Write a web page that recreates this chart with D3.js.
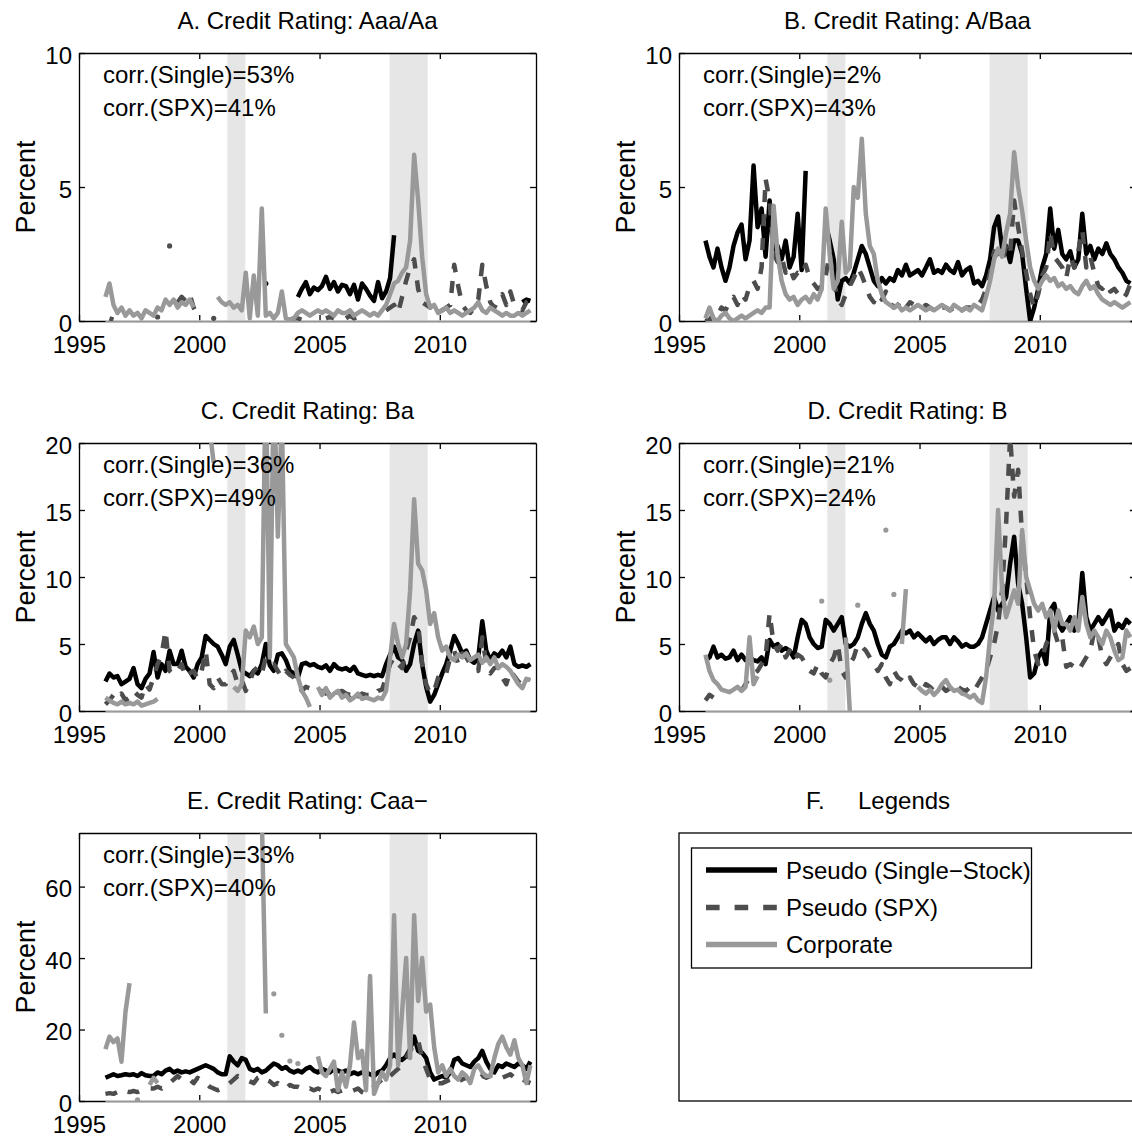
<!DOCTYPE html>
<html><head><meta charset="utf-8">
<script src="https://cdn.jsdelivr.net/npm/d3@7"></script>
<style>
body{margin:0;background:#fff;}
svg text{font-family:"Liberation Sans",Arial,Helvetica,sans-serif;fill:#000;}
</style></head><body>
<svg id="chart" width="1132" height="1141"></svg>
<script>
const n = null;
// time grid: bimonthly observations from 1996.1
const startYear = 1996.1, stepYear = 1/6, nObs = 107;
const xDomain = [1995, 2014];
const xTicks = [1995, 2000, 2005, 2010];
const recessions = [[2001.167, 2001.917], [2007.917, 2009.5]];
const seriesNames = ["Pseudo (Single\u2212Stock)", "Pseudo (SPX)", "Corporate"];
const panelTitles = ["A. Credit Rating: Aaa/Aa", "B. Credit Rating: A/Baa", "C. Credit Rating: Ba", "D. Credit Rating: B", "E. Credit Rating: Caa\u2212"];
const corrSingle = ["53%", "2%", "36%", "21%", "33%"];
const corrSPX = ["41%", "43%", "49%", "24%", "40%"];
const yMaxes = [10, 10, 20, 20, 75];
const yTicksList = [[0,5,10],[0,5,10],[0,5,10,15,20],[0,5,10,15,20],[0,20,40,60]];

const aSingle = [
 n,n,n,n,n,n, n,n,n,n,n,n, n,n,n,n,n,n, n,n,n,n,n,n, n,n,n,n,n,n, n,n,n,n,n,n,
 n,n,n,n,1.4,n, n,n,n,n,n,n,
 0.9,1.2,1.45,1.0,1.25,1.15,
 1.3,1.65,1.2,1.45,1.1,1.35,
 1.3,1.0,1.35,0.8,1.4,1.2,
 0.95,0.75,1.45,0.85,1.1,1.6,
 3.2,n,n,n,n,n,
 n,n,n,n,n,n, n,n,n,n,n,n, n,n,n,n,n,n, n,n,n,n,n,n,
 n,n,0.7,0.8,0.75];
const aSPX = [
 n,0.1,0.05,n,n,n,
 n,n,n,n,n,n,
 n,0.15,n,n,2.8,n,
 0.7,0.9,0.75,1.0,0.5,0.2,
 n,n,n,0.1,n,n,
 n,n,n,n,n,n,
 n,n,n,n,n,n,
 n,n,n,n,0.05,0.1,
 0.1,0.05,n,n,n,n,
 n,0.1,0.15,0.1,n,n,
 0.1,0.2,0.1,0.15,n,n,
 n,n,n,n,0.4,0.5,
 0.6,0.3,0.9,1.5,2.0,2.3,
 1.2,0.7,0.6,0.5,0.7,0.6,
 0.4,0.5,0.6,2.1,1.3,0.6,
 0.4,0.3,0.5,0.8,2.1,1.3,
 0.7,0.5,0.8,1.0,0.6,1.1,
 0.6,0.5,0.4,0.7,0.8];
const aCorp = [
 0.9,1.4,0.6,0.3,0.5,0.2,
 0.4,0.2,0.3,0.1,0.4,0.3,
 0.2,0.5,0.4,0.8,0.6,0.8,
 0.5,0.7,0.6,0.8,0.5,n,
 n,n,n,n,0.9,0.7,
 0.6,0.7,0.5,0.6,0.4,1.8,
 0.1,1.7,0.2,4.2,0.2,0.3,
 0.1,0.3,1.1,0.1,0.05,0.1,
 0.3,0.4,0.3,0.2,0.3,0.4,
 0.3,0.4,0.3,0.2,0.4,0.3,
 0.3,0.4,0.2,0.3,0.4,0.3,
 0.2,0.3,0.2,0.4,0.6,1.0,
 1.4,1.5,1.8,2.0,3.0,6.2,
 4.5,2.4,1.0,0.5,0.6,0.3,
 0.4,0.5,0.3,0.4,0.3,0.2,
 0.3,0.4,0.5,0.7,0.4,0.3,
 0.5,0.4,0.3,0.2,0.3,0.2,
 0.2,0.3,0.2,0.3,0.4];

const bSingle = [
 3.0,2.4,2.0,2.7,2.0,1.5,
 2.0,2.8,3.3,3.6,2.3,3.0,
 5.8,3.5,4.2,2.4,4.5,2.5,
 2.8,2.3,3.0,2.0,2.4,4.0,
 1.9,5.6,n,n,n,n,
 3.6,3.0,2.3,0.8,1.5,1.6,
 1.4,1.8,2.3,2.8,2.5,2.0,
 1.5,1.3,1.6,1.4,1.6,1.5,
 1.9,1.7,2.1,1.7,1.8,1.9,
 1.7,2.0,2.3,1.8,1.9,1.8,
 2.1,1.9,1.8,2.2,1.7,1.9,
 2.0,1.4,1.5,1.3,1.7,2.3,
 3.5,3.9,2.7,2.8,2.2,3.0,
 3.0,2.5,1.2,0.0,0.5,1.2,
 2.0,2.5,4.2,2.7,3.4,2.5,
 2.3,2.6,2.0,2.3,4.0,2.5,
 2.8,2.3,2.7,2.5,2.9,2.5,
 2.3,2.0,1.8,1.5,1.4];
const bSPX = [
 0.1,0.0,0.3,0.2,0.5,0.4,
 0.7,0.9,0.6,1.0,0.8,1.3,
 1.5,1.2,2.0,5.3,4.5,2.5,
 2.2,2.4,1.8,2.0,1.6,1.8,
 1.7,2.1,1.6,1.4,1.2,1.3,
 1.7,2.5,1.5,0.8,0.6,1.0,
 1.3,1.6,2.0,1.7,1.3,0.9,
 0.7,1.0,0.8,1.1,0.7,0.5,
 0.6,0.8,0.5,0.7,0.6,0.5,
 0.5,0.6,0.5,0.4,0.6,0.5,
 0.5,0.4,0.5,0.6,0.4,0.5,
 0.5,0.4,0.6,0.8,1.2,1.8,
 2.6,2.4,2.2,2.8,2.5,4.5,
 3.5,2.6,1.8,1.0,0.5,1.0,
 1.7,2.0,3.3,2.4,2.2,2.0,
 1.6,2.4,2.0,2.6,3.4,2.0,
 2.4,1.8,1.3,1.2,1.4,1.1,
 1.2,1.0,0.8,1.0,1.4];
const bCorp = [
 0.1,0.5,0.1,0.0,0.2,0.3,
 0.1,0.0,0.1,0.2,0.1,0.2,
 0.3,0.4,0.3,0.5,0.5,4.3,
 2.5,1.5,1.0,0.8,0.9,0.6,
 0.8,0.9,0.7,1.0,0.8,1.2,
 4.2,2.5,1.2,1.5,3.7,1.8,
 2.0,5.0,4.6,6.8,4.0,2.8,
 2.5,1.5,1.0,0.7,0.6,0.5,
 0.6,0.4,0.5,0.4,0.5,0.6,
 0.5,0.4,0.5,0.4,0.5,0.6,
 0.5,0.4,0.6,0.5,0.4,0.5,
 0.4,0.6,0.5,0.4,0.9,1.5,
 2.3,2.7,2.4,3.3,4.0,6.3,
 5.0,4.1,3.0,2.0,1.5,1.2,
 1.5,1.7,1.5,1.6,1.3,1.4,
 1.2,1.3,1.1,1.0,1.3,1.5,
 1.2,1.3,1.0,0.8,0.7,0.6,
 0.7,0.6,0.5,0.6,0.7];

const cSingle = [
 2.2,2.8,2.5,2.6,2.0,2.2,
 2.4,3.2,2.0,1.7,2.4,2.8,
 4.4,2.5,3.5,3.0,4.5,3.5,
 3.5,4.5,3.3,3.0,2.5,3.5,
 4.0,5.6,5.3,5.0,4.8,4.2,
 3.5,4.8,5.3,4.2,3.0,2.8,
 2.6,3.0,2.8,3.5,5.0,3.4,
 3.0,4.2,4.3,3.8,3.0,2.8,
 2.5,3.5,3.6,3.4,3.5,3.3,
 3.2,3.4,3.0,3.5,3.2,3.1,
 3.2,3.0,3.3,2.8,2.7,2.6,
 2.7,2.6,2.7,2.6,3.5,4.2,
 4.8,4.0,3.8,3.0,3.5,5.0,
 6.0,3.5,1.8,0.7,1.2,2.0,
 2.8,3.5,4.5,5.6,5.0,4.3,
 4.5,3.8,3.6,4.0,6.7,4.5,
 3.8,4.3,4.1,4.5,4.0,4.8,
 3.5,3.3,3.4,3.3,3.5];
const cSPX = [
 0.5,0.8,1.2,0.9,1.3,0.8,
 1.0,1.5,1.2,1.0,2.0,1.6,
 2.5,3.5,4.2,6.0,3.0,2.7,
 3.0,3.5,2.5,2.8,3.0,2.4,
 3.0,4.5,2.0,1.7,2.5,2.0,
 2.0,2.6,3.0,2.0,2.3,1.5,
 2.2,3.0,3.3,2.8,4.0,3.5,
 3.5,3.0,2.5,3.0,2.7,2.5,
 2.0,1.5,1.8,1.7,1.4,1.5,
 1.5,1.3,1.5,1.2,1.4,1.5,
 1.3,1.2,1.5,1.1,1.3,1.2,
 1.2,1.1,1.5,1.6,2.5,3.5,
 4.0,3.5,3.2,4.5,5.5,7.0,
 6.5,3.5,2.0,1.3,1.5,2.5,
 3.0,2.8,4.0,4.5,3.5,4.3,
 4.0,3.5,3.2,3.0,5.5,3.5,
 2.8,3.2,3.3,2.5,2.0,3.0,
 2.6,2.2,2.5,2.3,2.4];
const cCorp = [
 1.0,0.8,0.6,0.5,0.7,0.5,
 0.6,0.5,0.7,0.4,0.5,0.6,
 0.7,0.9,n,n,n,n,
 n,n,n,n,n,n,
 n,n,21,18.5,n,n,
 n,n,1.8,1.5,2.0,6.0,
 5.5,6.3,5.0,5.5,25,4.0,
 25,13,22,5.0,4.5,4.0,
 2.5,1.5,1.0,0.3,n,1.8,
 1.2,1.7,1.0,1.3,1.5,1.0,
 1.2,0.8,1.0,1.3,0.9,1.0,
 0.9,0.8,1.0,0.9,1.5,4.0,
 6.5,5.0,4.0,5.0,9.0,15.8,
 11.0,10.5,9.0,6.5,7.3,5.5,
 4.5,4.8,4.0,3.8,4.2,4.0,
 4.3,3.8,4.0,4.2,3.6,4.0,
 3.5,4.0,3.2,3.5,3.3,3.0,
 2.5,2.0,1.7,2.4,2.3];

const dSingle = [
 3.8,4.0,4.8,4.0,4.2,3.9,
 4.0,4.5,3.8,4.2,3.8,4.0,
 3.8,3.7,4.0,3.5,5.3,4.8,
 5.0,4.5,4.7,4.5,4.0,5.5,
 6.8,6.5,5.5,5.0,4.7,4.8,
 6.8,6.5,6.0,6.5,7.0,5.0,
 4.8,5.0,5.5,6.5,7.3,6.5,
 6.0,5.0,4.2,4.0,4.8,5.0,
 5.5,6.0,5.8,6.0,5.5,5.8,
 5.5,5.2,5.5,5.0,5.3,5.5,
 5.5,5.0,5.5,5.2,4.8,5.0,
 4.8,4.8,5.0,5.5,6.5,7.5,
 8.5,7.5,8.0,8.5,11.0,13.0,
 9.5,8.0,5.5,2.5,2.8,4.0,
 4.5,3.5,7.5,8.0,6.5,6.0,
 6.5,7.0,6.0,6.5,10.3,7.0,
 6.0,6.5,7.0,6.5,7.0,7.5,
 6.0,6.5,6.2,6.8,6.5];
const dSPX = [
 0.8,1.2,1.0,n,n,n,
 n,n,n,1.5,2.0,2.5,
 2.8,3.0,3.5,4.0,7.3,5.0,
 4.5,5.0,4.0,4.5,3.8,4.2,
 4.0,3.5,3.0,2.8,3.5,2.8,
 2.5,3.5,4.0,5.0,3.0,2.5,
 3.5,4.0,5.0,4.8,4.5,4.0,
 3.5,3.0,3.5,2.5,2.0,3.0,
 2.5,2.3,2.0,2.5,2.0,1.8,
 1.5,2.0,1.8,1.5,2.0,1.8,
 1.5,1.7,1.5,1.8,1.6,1.5,
 1.8,1.5,2.0,2.5,3.0,4.0,
 5.0,6.5,9.0,14.0,20.5,16.0,
 18.0,13.0,10.0,7.0,4.5,3.5,
 4.0,5.0,5.5,6.0,5.0,5.5,
 3.3,3.5,3.3,3.0,3.5,4.0,
 4.5,6.0,5.5,4.0,3.5,4.0,
 4.5,5.0,3.5,3.0,3.2];
const dCorp = [
 4.2,3.0,2.3,2.0,1.6,1.5,
 1.4,1.6,1.8,1.5,1.8,5.5,
 2.0,2.6,n,n,n,n,
 n,n,n,n,n,n,
 n,n,n,n,n,8.2,
 n,2.3,n,n,n,5.5,
 0.0,n,7.9,n,n,n,
 n,n,n,13.5,n,8.7,
 n,5.0,9.1,n,n,1.8,
 1.5,1.3,1.6,1.2,1.5,2.0,
 2.3,1.8,1.5,1.6,1.3,1.2,
 1.0,1.2,0.8,0.6,2.5,5.5,
 8.0,15.0,9.0,7.0,8.0,9.0,
 8.0,13.5,10.0,9.0,8.0,7.5,
 8.0,7.0,7.5,6.0,7.5,6.5,
 6.5,6.0,7.0,6.0,8.5,6.5,
 5.5,6.0,5.5,5.0,6.0,5.5,
 4.5,3.8,4.0,6.0,5.5];

const eSingle = [
 6.5,7.0,7.5,7.0,7.2,7.5,
 7.3,7.5,7.0,7.8,7.2,7.0,
 7.0,8.0,7.5,8.5,9.0,8.0,
 8.5,8.0,8.3,8.0,8.5,9.0,
 9.5,10.0,9.5,9.0,8.0,7.5,
 7.5,12.5,11.0,10.0,12.0,11.5,
 9.0,8.5,9.0,8.0,8.5,9.5,
 10.5,10.0,9.0,9.5,8.5,8.0,
 8.5,8.0,9.0,9.5,8.5,8.0,
 9.0,8.5,8.0,9.0,8.5,8.0,
 8.5,7.5,8.0,7.5,8.0,8.0,
 7.5,7.0,8.0,8.5,10.0,12.0,
 13.0,12.0,11.5,12.5,14.5,18.0,
 14.0,13.5,12.0,8.0,6.0,6.5,
 7.0,6.5,8.0,11.5,12.0,10.5,
 10.0,9.5,11.0,12.0,14.0,11.0,
 9.0,8.0,10.0,9.5,10.5,10.0,
 9.5,10.5,10.0,9.0,11.0];
const eSPX = [
 2.0,2.2,2.0,2.5,2.0,2.8,
 2.5,2.8,2.5,3.0,3.2,3.5,
 3.5,4.0,3.5,4.5,5.0,6.0,
 7.0,6.0,5.5,6.0,5.0,6.5,
 5.5,5.0,4.0,3.5,3.0,3.5,
 4.0,5.0,6.0,7.0,6.5,6.0,
 5.5,5.0,6.5,7.0,6.0,5.5,
 4.5,5.0,4.0,3.5,4.5,4.0,
 4.0,3.5,3.0,3.5,3.0,3.5,
 3.0,3.5,2.5,3.0,2.5,3.0,
 3.0,2.5,3.0,3.5,2.5,2.0,
 3.0,4.0,5.0,6.0,5.5,7.0,
 8.0,9.0,10.0,12.0,14.0,16.0,
 17.0,12.0,9.0,6.0,5.5,5.0,
 5.0,5.5,6.0,5.0,5.5,6.0,
 6.5,6.0,5.5,6.0,7.0,6.5,
 7.0,7.5,7.0,6.5,7.0,7.5,
 6.5,7.0,6.0,5.5,5.0];
const eCorp = [
 14.5,18.0,16.5,17.5,11.0,25.0,
 33.0,n,0.3,n,n,4.5,
 6.5,5.0,n,n,n,n,
 n,n,n,n,n,n,
 n,n,n,n,n,n,
 n,n,n,n,n,n,
 n,n,n,80,24.5,n,
 30,n,18.4,n,11.2,n,
 10.5,n,n,n,n,12.5,
 8.0,7.0,9.0,11.0,3.0,8.0,
 4.0,10.0,22.0,12.0,14.0,3.0,
 35.0,2.0,5.0,8.0,6.0,10.0,
 52.0,10.0,25.0,40.0,12.0,52.0,
 28.0,40.0,25.0,27.0,15.0,8.0,
 10.0,7.0,9.0,7.0,6.0,8.0,
 7.0,5.0,9.0,10.0,8.0,7.0,
 7.0,12.0,16.0,18.0,15.0,13.0,
 17.0,12.0,10.0,5.0,10.0];

const singleSeries = [aSingle, bSingle, cSingle, dSingle, eSingle];
const spxSeries = [aSPX, bSPX, cSPX, dSPX, eSPX];
const corpSeries = [aCorp, bCorp, cCorp, dCorp, eCorp];

// ---------- layout & style ----------
const colX = [79, 679], rowY = [53, 443, 833], W = 457, H = 268;
const styles = [
  {color: "#000000", width: 4.5, dash: null},
  {color: "#4d4d4d", width: 4.5, dash: "12,12"},
  {color: "#999999", width: 4.5, dash: null}
];
const dates = d3.range(nObs).map(i => startYear + i * stepYear);
const svg = d3.select("#chart");
const defs = svg.append("defs");

function styleAxis(g, fs) {
  g.selectAll("path,line").attr("stroke", "#000").attr("stroke-width", 1.3);
  g.selectAll("text").attr("font-family", null).attr("font-size", null)
    .style("font-size", fs + "px").attr("fill", "#000");
  g.attr("font-family", null).attr("font-size", null);
}

panelTitles.forEach((title, i) => {
  const x0 = colX[i % 2], y0 = rowY[Math.floor(i / 2)];
  const g = svg.append("g").attr("transform", `translate(${x0},${y0})`);
  const x = d3.scaleLinear().domain(xDomain).range([0, W]);
  const y = d3.scaleLinear().domain([0, yMaxes[i]]).range([H, 0]);

  defs.append("clipPath").attr("id", "clip" + i)
    .append("rect").attr("x", 0).attr("y", 0).attr("width", W).attr("height", H);

  // recession shading
  g.selectAll("rect.rec").data(recessions).join("rect").attr("class", "rec")
    .attr("x", d => x(d[0])).attr("width", d => x(d[1]) - x(d[0]))
    .attr("y", 0).attr("height", H).attr("fill", "#e6e6e6");

  // axes (inward ticks, full box)
  const gb = g.append("g").attr("transform", `translate(0,${H})`)
    .call(d3.axisBottom(x).tickValues(xTicks).tickFormat(d3.format("d")).tickSizeInner(-6).tickSizeOuter(0).tickPadding(15));
  styleAxis(gb, 24);
  const gt = g.append("g")
    .call(d3.axisTop(x).tickValues(xTicks).tickFormat(() => "").tickSizeInner(-6).tickSizeOuter(0));
  styleAxis(gt, 24);
  const gl = g.append("g")
    .call(d3.axisLeft(y).tickValues(yTicksList[i]).tickSizeInner(-6).tickSizeOuter(0).tickPadding(7));
  styleAxis(gl, 24);
  gl.selectAll("text").attr("dy", "0.42em");
  const gr = g.append("g").attr("transform", `translate(${W},0)`)
    .call(d3.axisRight(y).tickValues(yTicksList[i]).tickFormat(() => "").tickSizeInner(-6).tickSizeOuter(0));
  styleAxis(gr, 24);

  // light baseline of the shading area over the data span
  g.append("line").attr("x1", x(dates[0])).attr("x2", x(dates[nObs - 1]))
    .attr("y1", H).attr("y2", H).attr("stroke", "#cccccc").attr("stroke-width", 1.5);

  // data
  const plot = g.append("g").attr("clip-path", `url(#clip${i})`);
  [singleSeries[i], spxSeries[i], corpSeries[i]].forEach((vals, s) => {
    const pts = dates.map((d, k) => [d, vals[k] === undefined ? null : vals[k]]);
    const line = d3.line().defined(d => d[1] !== null).x(d => x(d[0])).y(d => y(d[1]));
    const path = plot.append("path").datum(pts).attr("d", line)
      .attr("fill", "none").attr("stroke", styles[s].color).attr("stroke-width", styles[s].width)
      .attr("stroke-linejoin", "round");
    if (styles[s].dash) path.attr("stroke-dasharray", styles[s].dash);
    const iso = pts.filter((p, k) => p[1] !== null &&
      (k === 0 || pts[k - 1][1] === null) && (k === pts.length - 1 || pts[k + 1][1] === null));
    plot.selectAll(null).data(iso).join("circle")
      .attr("cx", d => x(d[0])).attr("cy", d => y(d[1])).attr("r", 2.6).attr("fill", styles[s].color);
  });

  // texts
  g.append("text").attr("x", W / 2).attr("y", -24).attr("text-anchor", "middle")
    .style("font-size", "24px").text(title);
  g.append("text").attr("x", 24).attr("y", 30).style("font-size", "24px").text("corr.(Single)=" + corrSingle[i]);
  g.append("text").attr("x", 24).attr("y", 63).style("font-size", "24px").text("corr.(SPX)=" + corrSPX[i]);
  g.append("text").attr("transform", `translate(-44,${H / 2}) rotate(-90)`).attr("text-anchor", "middle")
    .style("font-size", "27px").text("Percent");
});

// ---------- panel F: legend ----------
const fx = colX[1], fy = rowY[2];
svg.append("text").attr("x", 806).attr("y", fy - 24).style("font-size", "24px")
  .style("white-space", "pre").text("F.     Legends");
svg.append("rect").attr("x", fx).attr("y", fy).attr("width", W).attr("height", H)
  .attr("fill", "none").attr("stroke", "#000").attr("stroke-width", 1.3);
svg.append("rect").attr("x", 691.5).attr("y", 848).attr("width", 340).attr("height", 120)
  .attr("fill", "#fff").attr("stroke", "#000").attr("stroke-width", 1.3);
const legendRows = [870, 907.5, 944.5];
seriesNames.forEach((name, s) => {
  const ly = legendRows[s];
  const l = svg.append("line").attr("x1", 706).attr("x2", 777).attr("y1", ly).attr("y2", ly)
    .attr("stroke", styles[s].color).attr("stroke-width", 5.5);
  if (styles[s].dash) l.attr("stroke-dasharray", "13.6,15");
  svg.append("text").attr("x", 786).attr("y", ly + 8.5).style("font-size", "24px").text(name);
});
</script>
</body></html>
